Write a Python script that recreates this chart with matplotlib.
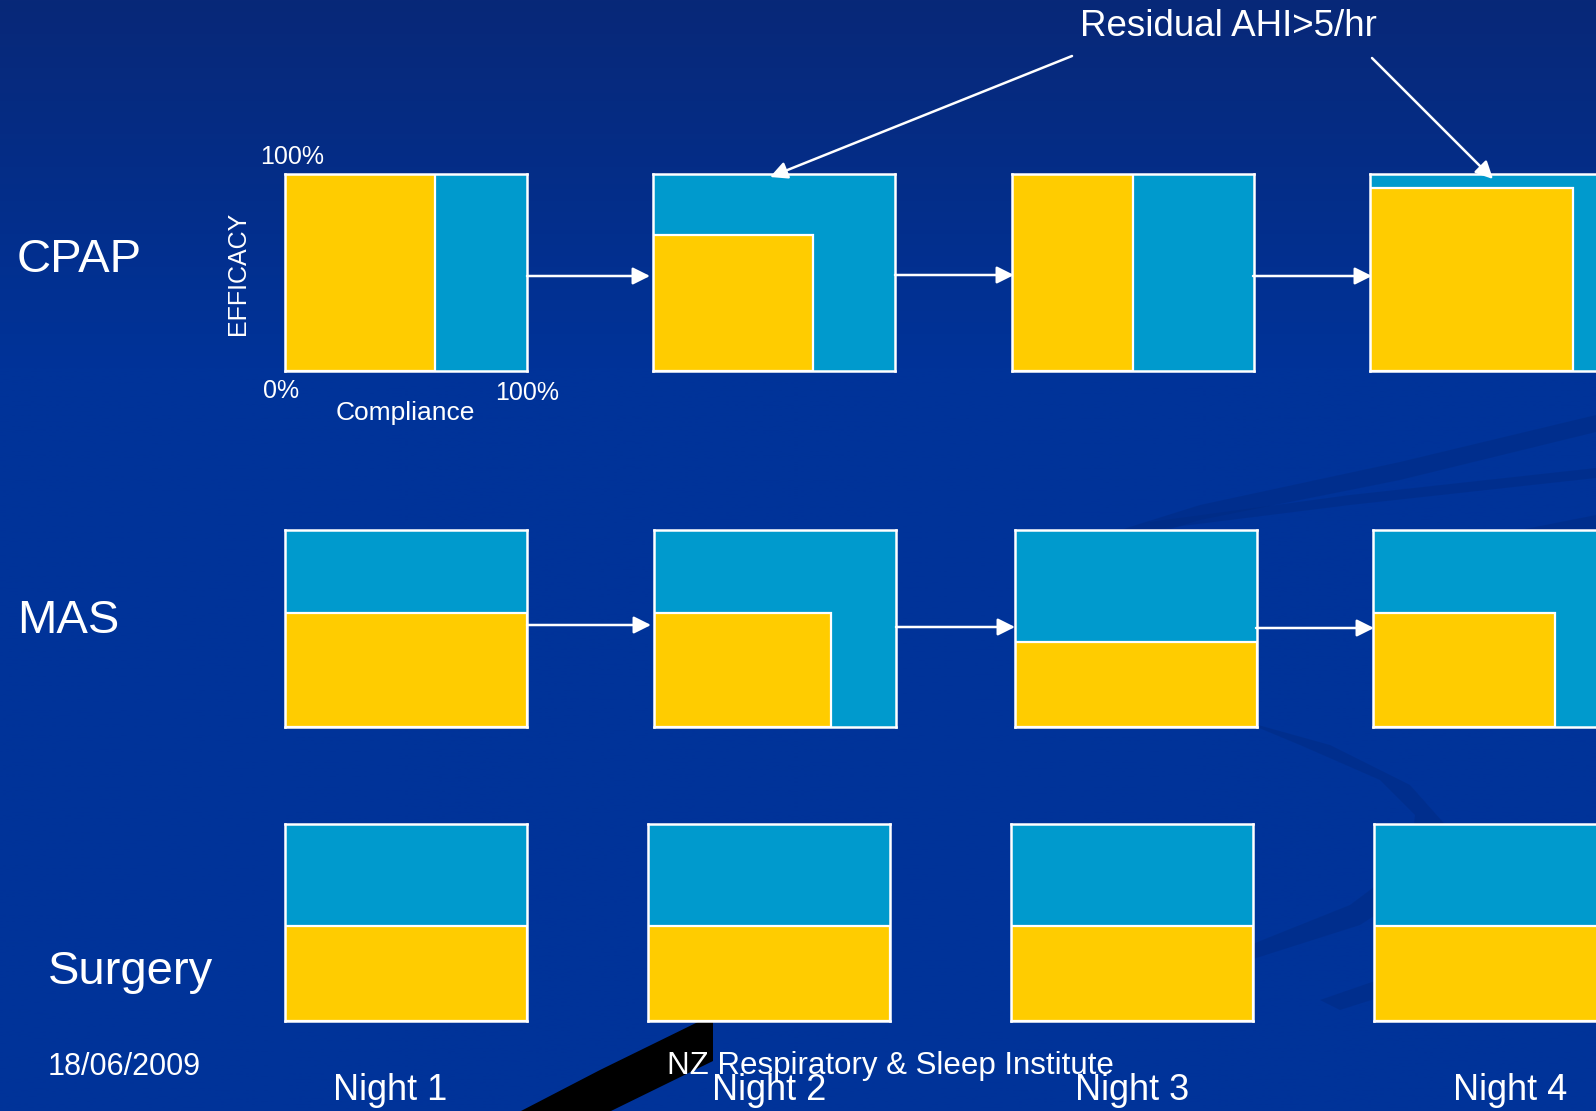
import numpy as np
import matplotlib.pyplot as plt
from matplotlib.patches import Polygon

plt.rcParams['font.family'] = ['Liberation Sans', 'DejaVu Sans']

# data (fractions of 100%)
treatments = ['CPAP', 'MAS', 'Surgery']
nights = ['Night 1', 'Night 2', 'Night 3', 'Night 4']
cpap_compliance = [0.62, 0.66, 0.50, 0.84]
cpap_efficacy = [1.00, 0.69, 1.00, 0.93]
mas_compliance = [1.00, 0.73, 1.00, 0.75]
mas_efficacy = [0.58, 0.58, 0.43, 0.58]
surgery_compliance = [1.00, 1.00, 1.00, 1.00]
surgery_efficacy = [0.48, 0.48, 0.48, 0.48]

YELLOW = '#ffcc00'
CYAN = '#009acd'
W, H = 1596, 1111

fig = plt.figure(figsize=(W / 100, H / 100), dpi=100)


def px_axes(x, y, w, h, z=1):
    return fig.add_axes([x / W, 1 - (y + h) / H, w / W, h / H], zorder=z)


# background
bg = px_axes(0, 0, W, H, z=0)
bg.set_xlim(0, W)
bg.set_ylim(H, 0)
bg.axis('off')
yy = np.linspace(0, 1, 400)[:, None]
t = np.clip(yy / 0.33, 0, 1)
top = np.array([8, 40, 120]) / 255
bot = np.array([0, 51, 153]) / 255
grad = (top * (1 - t)[..., None] + bot * t[..., None]) * np.ones((1, 2, 1))
bg.imshow(grad, extent=[0, W, H, 0], aspect='auto')

# faint dark swooshes
dark = '#002a80'
swooshes = [
    [(1050, 552), (1200, 505), (1400, 462), (1596, 415), (1596, 432), (1400, 480), (1200, 520), (1070, 560)],
    [(1150, 522), (1350, 495), (1596, 468), (1596, 478), (1350, 505), (1150, 530)],
    [(1440, 555), (1520, 530), (1596, 515), (1596, 540), (1500, 555)],
    [(1240, 720), (1330, 745), (1410, 785), (1450, 830), (1430, 880), (1360, 925), (1250, 960), (1130, 995),
     (1040, 1018), (1120, 985), (1250, 945), (1350, 905), (1410, 860), (1415, 815), (1380, 780), (1300, 745)],
    [(1320, 1000), (1450, 955), (1596, 915), (1596, 935), (1450, 975), (1340, 1010)],
]
for pts in swooshes:
    bg.add_patch(Polygon(pts, closed=True, facecolor=dark, edgecolor='none', alpha=0.45))

# black wedge at the bottom
bg.add_patch(Polygon([(521, 1111), (600, 1070), (700, 1021), (713, 1021), (713, 1061), (611, 1111)],
                     closed=True, facecolor='black', edgecolor='none'))

# boxes
rows = [
    (174, [285, 653, 1012, 1370], cpap_compliance, cpap_efficacy),
    (530, [285, 654, 1015, 1373], mas_compliance, mas_efficacy),
    (824, [285, 648, 1011, 1374], surgery_compliance, surgery_efficacy),
]
BW, BH = 242, 197
for top_y, xs, comp, eff in rows:
    for x0, c, e in zip(xs, comp, eff):
        ax = px_axes(x0, top_y, BW, BH, z=2)
        ax.set_xlim(0, 1)
        ax.set_ylim(0, 1)
        ax.set_facecolor(CYAN)
        ax.bar(0, e, width=c, align='edge', color=YELLOW, edgecolor='white', linewidth=1.6)
        ax.set_xticks([])
        ax.set_yticks([])
        for s in ax.spines.values():
            s.set_color('white')
            s.set_linewidth(1.8)

# overlay for text and arrows
ov = px_axes(0, 0, W, H, z=5)
ov.set_xlim(0, W)
ov.set_ylim(H, 0)
ov.axis('off')
ov.patch.set_alpha(0)

arrow = dict(arrowstyle='-|>', color='white', lw=1.8, mutation_scale=26, shrinkA=0, shrinkB=0)
flow = [((527, 276), (650, 276)), ((895, 275), (1014, 275)), ((1253, 276), (1372, 276)),
        ((527, 625), (651, 625)), ((896, 627), (1015, 627)), ((1256, 628), (1374, 628))]
for a, b in flow:
    ov.annotate('', xy=b, xytext=a, arrowprops=arrow)

ov.annotate('', xy=(770, 177), xytext=(1072, 56), arrowprops=arrow)
ov.annotate('', xy=(1493, 179), xytext=(1372, 58), arrowprops=arrow)
ov.text(1228, 26, 'Residual AHI>5/hr', color='white', fontsize=26.5, ha='center', va='center')

ov.text(260, 157, '100%', color='white', fontsize=18, ha='left', va='center')
ov.text(238, 273, 'EFFICACY', color='white', fontsize=18, rotation=90, ha='center', va='center')
ov.text(281, 391, '0%', color='white', fontsize=18, ha='center', va='center')
ov.text(527, 393, '100%', color='white', fontsize=18, ha='center', va='center')
ov.text(405, 413, 'Compliance', color='white', fontsize=19, ha='center', va='center')

for name, (x, y) in zip(treatments, [(17, 260), (17, 621), (48, 972)]):
    ov.text(x, y, name, color='white', fontsize=34, ha='left', va='center')

for name, x in zip(nights, [390, 769, 1132, 1510]):
    ov.text(x, 1091, name, color='white', fontsize=26, ha='center', va='center')

ov.text(48, 1067, '18/06/2009', color='white', fontsize=22, ha='left', va='center')
ov.text(890, 1066, 'NZ Respiratory & Sleep Institute', color='white', fontsize=22.5, ha='center', va='center')

fig.savefig('out.png', dpi=100)
